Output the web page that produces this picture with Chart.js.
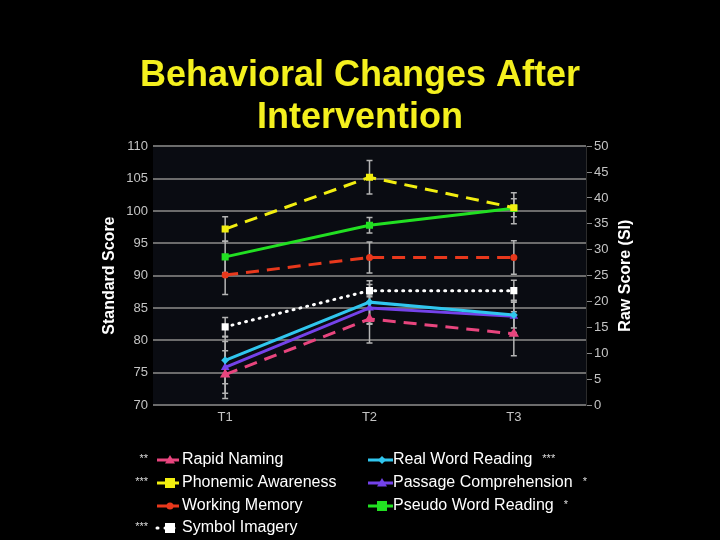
<!DOCTYPE html>
<html lang="en">
<head>
    <meta charset="UTF-8">
    <title>Behavioral Changes After Intervention</title>
    <script src="https://cdn.jsdelivr.net/npm/chart.js@4.4.1/dist/chart.umd.min.js"></script>
    <style>
        body {
            margin: 0;
            background: #000;
        }
        .chart-box {
            width: 720px;
            height: 540px;
        }
    </style>
</head>
<body>
    <div class="chart-box">
        <canvas id="chart"></canvas>
    </div>

    <script>
        // Time points and scores (standard scores, Symbol Imagery is raw score on right axis)
        const timePoints = ['T1', 'T2', 'T3'];

        const rapidNaming = [74.7, 83.3, 81.0];
        const phonemicAwareness = [97.2, 105.2, 100.5];
        const workingMemory = [90.1, 92.8, 92.8];
        const symbolImagery = [15.1, 22.1, 22.1];
        const realWordReading = [76.9, 85.9, 83.9];
        const passageComprehension = [75.8, 85.0, 83.7];
        const pseudoWordReading = [92.9, 97.8, 100.4];

        // error bar half-lengths
        const rapidNamingErr = [3.7, 3.7, 3.4];
        const phonemicAwarenessErr = [1.9, 2.6, 1.4];
        const workingMemoryErr = [3.0, 2.4, 2.6];
        const symbolImageryErr = [1.8, 1.2, 2.0];
        const realWordReadingErr = [3.6, 3.3, 2.0];
        const passageComprehensionErr = [4.0, 2.5, 2.5];
        const pseudoWordReadingErr = [2.4, 1.2, 2.4];

        const seriesNames = ['Rapid Naming', 'Phonemic Awareness', 'Working Memory', 'Symbol Imagery',
            'Real Word Reading', 'Passage Comprehension', 'Pseudo Word Reading'];
        const stars = ['**', '***', '', '***', '***', '*', '*'];

        // axis ticks
        const standardMin = 70, standardMax = 110, standardStep = 5;
        const rawMin = 0, rawMax = 50, rawStep = 5;

        const fontFamily = '"Liberation Sans", Arial, Helvetica, sans-serif';

        function makeSet(i, data, err, color, dash, pointStyle, radius, axis) {
            return {
                label: seriesNames[i],
                data: data,
                err: err,
                stars: stars[i],
                yAxisID: axis,
                borderColor: color,
                backgroundColor: color,
                borderWidth: 3,
                borderDash: dash,
                borderCapStyle: dash.length && dash[0] < 4 ? 'round' : 'butt',
                pointStyle: pointStyle,
                pointRadius: radius,
                pointBorderWidth: 0,
                tension: 0
            };
        }

        const datasets = [
            makeSet(0, rapidNaming, rapidNamingErr, '#e8457e', [13, 8], 'triangle', 6, 'y'),
            makeSet(1, phonemicAwareness, phonemicAwarenessErr, '#f2ee10', [13, 8], 'rect', 5, 'y'),
            makeSet(2, workingMemory, workingMemoryErr, '#e8381c', [13, 8], 'circle', 3.5, 'y'),
            makeSet(3, symbolImagery, symbolImageryErr, '#ffffff', [1, 6], 'rect', 5, 'y1'),
            makeSet(4, realWordReading, realWordReadingErr, '#30c6ee', [], 'rectRot', 4, 'y'),
            makeSet(5, passageComprehension, passageComprehensionErr, '#7442ea', [], 'triangle', 5, 'y'),
            makeSet(6, pseudoWordReading, pseudoWordReadingErr, '#22e022', [], 'rect', 5, 'y')
        ];

        // dark plot background
        const plotBackground = {
            id: 'plotBackground',
            beforeDraw(chart) {
                const { ctx, chartArea: a } = chart;
                ctx.save();
                ctx.fillStyle = '#0a0c12';
                ctx.fillRect(a.left, a.top, a.right - a.left, a.bottom - a.top);
                ctx.restore();
            }
        };

        // gray error bars
        const errorBars = {
            id: 'errorBars',
            beforeDatasetsDraw(chart) {
                const ctx = chart.ctx;
                ctx.save();
                ctx.strokeStyle = '#b4b4b4';
                ctx.lineWidth = 1.5;
                chart.data.datasets.forEach((ds, i) => {
                    const meta = chart.getDatasetMeta(i);
                    const scale = chart.scales[ds.yAxisID];
                    meta.data.forEach((pt, j) => {
                        const top = scale.getPixelForValue(ds.data[j] + ds.err[j]);
                        const bot = scale.getPixelForValue(ds.data[j] - ds.err[j]);
                        ctx.beginPath();
                        ctx.moveTo(pt.x, top);
                        ctx.lineTo(pt.x, bot);
                        ctx.moveTo(pt.x - 3, top);
                        ctx.lineTo(pt.x + 3, top);
                        ctx.moveTo(pt.x - 3, bot);
                        ctx.lineTo(pt.x + 3, bot);
                        ctx.stroke();
                    });
                });
                ctx.restore();
            }
        };

        function drawMarker(ctx, style, x, y, r, color) {
            ctx.fillStyle = color;
            ctx.beginPath();
            if (style === 'rect') {
                ctx.rect(x - r, y - r, 2 * r, 2 * r);
            } else if (style === 'triangle') {
                ctx.moveTo(x, y - r);
                ctx.lineTo(x + r, y + r * 0.7);
                ctx.lineTo(x - r, y + r * 0.7);
                ctx.closePath();
            } else if (style === 'rectRot') {
                ctx.moveTo(x, y - r);
                ctx.lineTo(x + r, y);
                ctx.lineTo(x, y + r);
                ctx.lineTo(x - r, y);
                ctx.closePath();
            } else {
                ctx.arc(x, y, r, 0, Math.PI * 2);
            }
            ctx.fill();
        }

        // legend with significance stars + right axis title
        const customLegend = {
            id: 'customLegend',
            afterDraw(chart) {
                const { ctx, chartArea: a } = chart;
                const rowY = [460, 483, 506, 528];
                ctx.save();

                // right axis title, reading bottom to top
                ctx.translate(626, (a.top + a.bottom) / 2);
                ctx.rotate(-Math.PI / 2);
                ctx.font = 'bold 16px ' + fontFamily;
                ctx.fillStyle = '#ffffff';
                ctx.textAlign = 'center';
                ctx.textBaseline = 'middle';
                ctx.fillText('Raw Score (SI)', 0, 0);
                ctx.setTransform(1, 0, 0, 1, 0, 0);

                chart.data.datasets.forEach((ds, i) => {
                    const left = i < 4;
                    const y = left ? rowY[i] : rowY[i - 4];
                    const x0 = left ? 157 : 368;
                    const x1 = left ? 179 : 393;
                    const mx = left ? 170 : 382;
                    const tx = left ? 182 : 393;

                    ctx.strokeStyle = ds.borderColor;
                    ctx.lineWidth = 3;
                    if (ds.borderDash.length && ds.borderDash[0] < 4) {
                        ctx.setLineDash([1, 7]);
                        ctx.lineCap = 'round';
                    } else {
                        ctx.setLineDash([]);
                        ctx.lineCap = 'butt';
                    }
                    ctx.beginPath();
                    ctx.moveTo(x0, y);
                    ctx.lineTo(x1, y);
                    ctx.stroke();
                    const r = ds.pointStyle === 'rectRot' ? 4 : (ds.pointStyle === 'circle' ? 3.5 : 5);
                    drawMarker(ctx, ds.pointStyle, mx, y, r, ds.borderColor);

                    ctx.font = '16px ' + fontFamily;
                    ctx.fillStyle = '#ffffff';
                    ctx.textAlign = 'left';
                    ctx.textBaseline = 'middle';
                    ctx.fillText(ds.label, tx, y);

                    if (ds.stars) {
                        const tw = ctx.measureText(ds.label).width;
                        ctx.font = '11px ' + fontFamily;
                        ctx.fillStyle = '#dddddd';
                        if (left) {
                            ctx.textAlign = 'right';
                            ctx.fillText(ds.stars, 148, y - 1);
                        } else {
                            ctx.textAlign = 'left';
                            ctx.fillText(ds.stars, tx + tw + 10, y - 1);
                        }
                    }
                });
                ctx.restore();
            }
        };

        const chart = new Chart(document.getElementById('chart'), {
            type: 'line',
            data: {
                labels: timePoints,
                datasets: datasets
            },
            options: {
                responsive: true,
                maintainAspectRatio: false,
                animation: false,
                layout: {
                    padding: { top: 0, bottom: 110, left: 0, right: 0 }
                },
                plugins: {
                    legend: { display: false },
                    tooltip: { enabled: false },
                    title: {
                        display: true,
                        text: ['Behavioral Changes After', 'Intervention'],
                        color: '#f4f01e',
                        font: { family: fontFamily, size: 36, weight: 'bold', lineHeight: 1.17 },
                        padding: { top: 55, bottom: 7 }
                    }
                },
                scales: {
                    x: {
                        offset: true,
                        grid: { display: false, drawTicks: false },
                        border: { display: false },
                        ticks: {
                            color: '#c4c4c4',
                            padding: 5,
                            font: { family: fontFamily, size: 13 }
                        },
                        afterFit(scale) { scale.height = 25; }
                    },
                    y: {
                        position: 'left',
                        min: standardMin,
                        max: standardMax,
                        grid: { color: '#6c6c6c', lineWidth: 2, drawTicks: false },
                        border: { display: false },
                        ticks: {
                            stepSize: standardStep,
                            color: '#c4c4c4',
                            padding: 5,
                            font: { family: fontFamily, size: 13 }
                        },
                        title: {
                            display: true,
                            text: 'Standard Score',
                            color: '#ffffff',
                            font: { family: fontFamily, size: 16, weight: 'bold', lineHeight: 1.2 },
                            padding: { top: 100, bottom: 0 }
                        },
                        afterFit(scale) { scale.width = 153; }
                    },
                    y1: {
                        position: 'right',
                        min: rawMin,
                        max: rawMax,
                        grid: { drawOnChartArea: false, color: '#8a8a8a', lineWidth: 1, tickLength: 6 },
                        border: { display: true, color: '#2c2c2c' },
                        ticks: {
                            stepSize: rawStep,
                            color: '#c4c4c4',
                            padding: 2,
                            font: { family: fontFamily, size: 13 }
                        },
                        afterFit(scale) { scale.width = 134; }
                    }
                }
            },
            plugins: [plotBackground, errorBars, customLegend]
        });
    </script>
</body>
</html>
